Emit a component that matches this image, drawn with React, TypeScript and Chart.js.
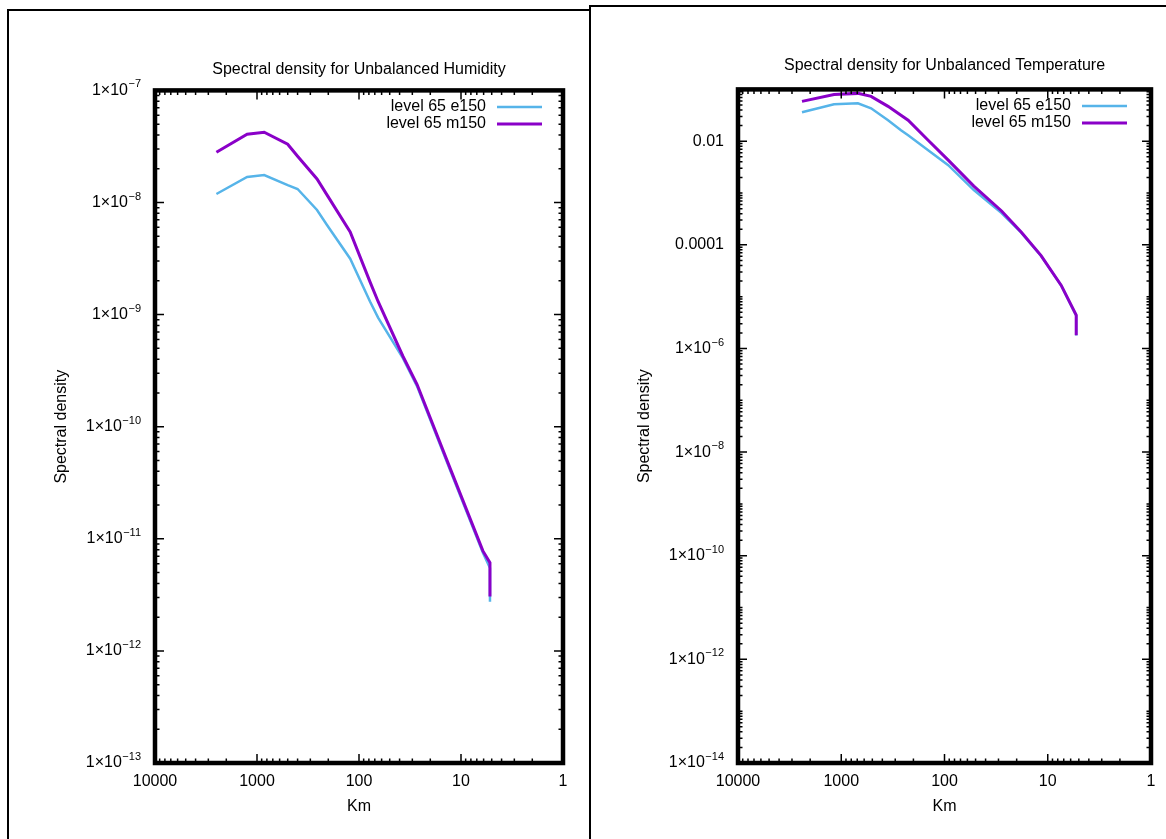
import React, { useEffect, useRef } from "react";
import { Chart, registerables } from "chart.js";

Chart.register(...registerables);

// ---------- data ----------
const seriesNames = ["level 65 e150", "level 65 m150"];
const seriesColors = ["#56b4e9", "#8a00c8"];

const humidityKm = [2500, 1250, 850, 500, 400, 258, 206, 122, 78, 65, 37, 27, 12.8, 6.1, 5.2, 5.2];
const humidityE150 = [1.19e-8, 1.69e-8, 1.76e-8, 1.43e-8, 1.32e-8, 8.58e-9, 6.3e-9, 3.15e-9, 1.31e-9, 9.4e-10, 4.07e-10, 2.3e-10, 4.1e-11, 7.5e-12, 5.5e-12, 2.75e-12];
const humidityM150 = [2.81e-8, 4.06e-8, 4.23e-8, 3.31e-8, 2.59e-8, 1.62e-8, 1.17e-8, 5.47e-9, 1.96e-9, 1.31e-9, 4.23e-10, 2.39e-10, 4.27e-11, 7.8e-12, 6.12e-12, 3.05e-12];

const temperatureKm = [2400, 1175, 690, 514, 352, 264, 225, 144, 92, 52, 28, 18, 11.6, 7.4, 5.3, 5.3];
const temperatureE150 = [0.0361, 0.0515, 0.0538, 0.0432, 0.0254, 0.0163, 0.013, 0.00672, 0.00345, 0.00114, 4.1e-4, 1.7e-4, 6.1e-5, 1.63e-5, 4.3e-6, 1.78e-6];
const temperatureM150 = [0.0588, 0.08, 0.0838, 0.0733, 0.0471, 0.0316, 0.0254, 0.01045, 0.00431, 0.00136, 4.5e-4, 1.75e-4, 6.2e-5, 1.65e-5, 4.4e-6, 1.8e-6];

const xTicks = [10000, 1000, 100, 10, 1];
const xTickLabels = ["10000", "1000", "100", "10", "1"];

// tick labels: [mantissa text, exponent text] — exponent drawn as superscript
const humidityYTicks = [1e-13, 1e-12, 1e-11, 1e-10, 1e-9, 1e-8, 1e-7];
const humidityYLabels = [
  ["1×10", "−13"],
  ["1×10", "−12"],
  ["1×10", "−11"],
  ["1×10", "−10"],
  ["1×10", "−9"],
  ["1×10", "−8"],
  ["1×10", "−7"],
];

const temperatureYTicks = [1e-14, 1e-12, 1e-10, 1e-8, 1e-6, 1e-4, 1e-2];
const temperatureYLabels = [
  ["1×10", "−14"],
  ["1×10", "−12"],
  ["1×10", "−10"],
  ["1×10", "−8"],
  ["1×10", "−6"],
  ["0.0001", ""],
  ["0.01", ""],
];

const FONT = "'Liberation Sans', Arial, sans-serif";

type PanelCfg = {
  title: string;
  km: number[];
  e150: number[];
  m150: number[];
  yMin: number;
  yMax: number;
  yTicks: number[];
  yLabels: string[][];
  left: number;
  top: number;
  width: number;
  height: number;
  yAxisWidth: number;
  xAxisHeight: number;
  padRight: number;
  titlePadTop: number;
  titlePadBottom: number;
  yTitlePad: number;
  keyRightGap: number;
};

function makeFramePlugin(cfg: PanelCfg) {
  return {
    id: "gpFrame",
    afterDraw(chart: any) {
      const ctx = chart.ctx;
      const a = chart.chartArea;
      const xs = chart.scales.x;
      const ys = chart.scales.y;
      ctx.save();
      ctx.strokeStyle = "#000";
      // ticks (inward, mirrored)
      ctx.lineWidth = 1.5;
      for (let n = 0; n <= 4; n++) {
        for (let k = 1; k <= 9; k++) {
          const v = k * Math.pow(10, n);
          if (v < 1 || v > 10000) continue;
          const px = xs.getPixelForValue(v);
          const len = k === 1 ? 9 : 4.5;
          ctx.beginPath();
          ctx.moveTo(px, a.bottom);
          ctx.lineTo(px, a.bottom - len);
          ctx.moveTo(px, a.top);
          ctx.lineTo(px, a.top + len);
          ctx.stroke();
        }
      }
      const lo = Math.round(Math.log10(cfg.yMin));
      const hi = Math.round(Math.log10(cfg.yMax));
      for (let n = lo; n <= hi; n++) {
        for (let k = 1; k <= 9; k++) {
          const v = k * Math.pow(10, n);
          if (v < cfg.yMin * 0.999 || v > cfg.yMax * 1.001) continue;
          const isMajor = k === 1 && cfg.yTicks.some((t) => Math.abs(Math.log10(t) - n) < 1e-6);
          const py = ys.getPixelForValue(v);
          const len = isMajor ? 9 : 4.5;
          ctx.beginPath();
          ctx.moveTo(a.left, py);
          ctx.lineTo(a.left + len, py);
          ctx.moveTo(a.right, py);
          ctx.lineTo(a.right - len, py);
          ctx.stroke();
        }
      }
      // frame
      ctx.lineWidth = 4.5;
      ctx.strokeRect(a.left, a.top, a.right - a.left, a.bottom - a.top);

      // y tick labels with superscript exponents
      ctx.fillStyle = "#000";
      ctx.textBaseline = "middle";
      const xr = a.left - 14;
      cfg.yTicks.forEach((v, i) => {
        const py = ys.getPixelForValue(v);
        const [base, exp] = cfg.yLabels[i];
        let expW = 0;
        if (exp) {
          ctx.font = "11px " + FONT;
          expW = ctx.measureText(exp).width;
          ctx.textAlign = "left";
          ctx.fillText(exp, xr - expW, py - 6);
        }
        ctx.font = "16px " + FONT;
        ctx.textAlign = "right";
        ctx.fillText(base, xr - expW - (exp ? 0.5 : 0), py);
      });

      // key
      ctx.font = "16px " + FONT;
      ctx.fillStyle = "#000";
      ctx.textAlign = "right";
      ctx.textBaseline = "middle";
      const lineEnd = a.right - cfg.keyRightGap;
      const lineStart = lineEnd - 45;
      seriesNames.forEach((name, i) => {
        const y = a.top + 16.5 + i * 17;
        ctx.fillText(name, lineStart - 11, y);
        ctx.beginPath();
        ctx.strokeStyle = seriesColors[i];
        ctx.lineWidth = i === 0 ? 2.5 : 3;
        ctx.moveTo(lineStart, y);
        ctx.lineTo(lineEnd, y);
        ctx.stroke();
      });
      ctx.restore();
    },
  };
}

function Panel({ cfg }: { cfg: PanelCfg }) {
  const ref = useRef<HTMLCanvasElement | null>(null);
  useEffect(() => {
    if (!ref.current) return;
    const font = { family: FONT, size: 16 };
    const chart = new Chart(ref.current, {
      type: "line",
      data: {
        datasets: [
          {
            label: seriesNames[0],
            data: cfg.km.map((k, i) => ({ x: k, y: cfg.e150[i] })),
            borderColor: seriesColors[0],
            borderWidth: 2.5,
            pointRadius: 0,
            tension: 0,
            fill: false,
            order: 2,
          },
          {
            label: seriesNames[1],
            data: cfg.km.map((k, i) => ({ x: k, y: cfg.m150[i] })),
            borderColor: seriesColors[1],
            borderWidth: 3,
            pointRadius: 0,
            tension: 0,
            fill: false,
            order: 1,
          },
        ],
      },
      options: {
        animation: false,
        responsive: false,
        devicePixelRatio: 1,
        layout: { padding: { top: 0, left: 0, right: cfg.padRight, bottom: 0 } },
        plugins: {
          legend: { display: false },
          tooltip: { enabled: false },
          title: {
            display: true,
            text: cfg.title,
            fullSize: false,
            color: "#000",
            font: { ...font, weight: "normal" },
            padding: { top: cfg.titlePadTop, bottom: cfg.titlePadBottom },
          },
        },
        scales: {
          x: {
            type: "logarithmic",
            reverse: true,
            min: 1,
            max: 10000,
            afterBuildTicks: (s: any) => {
              s.ticks = xTicks.map((v) => ({ value: v }));
            },
            afterFit: (s: any) => {
              s.height = cfg.xAxisHeight;
            },
            grid: { display: false },
            border: { display: false },
            ticks: {
              autoSkip: false,
              maxRotation: 0,
              padding: 1,
              color: "#000",
              font,
              callback: (_v: any, i: number) => xTickLabels[i],
            },
            title: { display: true, text: "Km", color: "#000", font, padding: { top: 0, bottom: 22.6 } },
          },
          y: {
            type: "logarithmic",
            min: cfg.yMin,
            max: cfg.yMax,
            afterBuildTicks: (s: any) => {
              s.ticks = cfg.yTicks.map((v) => ({ value: v }));
            },
            afterFit: (s: any) => {
              s.width = cfg.yAxisWidth;
            },
            grid: { display: false },
            border: { display: false },
            ticks: { display: false },
            title: {
              display: true,
              text: "Spectral density",
              color: "#000",
              font,
              padding: { top: cfg.yTitlePad, bottom: 0 },
            },
          },
        },
      } as any,
      plugins: [makeFramePlugin(cfg)],
    });
    return () => chart.destroy();
  }, [cfg]);
  return (
    <canvas
      ref={ref}
      width={cfg.width}
      height={cfg.height}
      style={{ position: "absolute", left: cfg.left, top: cfg.top, width: cfg.width, height: cfg.height }}
    />
  );
}

const leftCfg: PanelCfg = {
  title: "Spectral density for Unbalanced Humidity",
  km: humidityKm,
  e150: humidityE150,
  m150: humidityM150,
  yMin: 1e-13,
  yMax: 1e-7,
  yTicks: humidityYTicks,
  yLabels: humidityYLabels,
  left: 10,
  top: 12,
  width: 578,
  height: 827,
  yAxisWidth: 145,
  xAxisHeight: 76,
  padRight: 25,
  titlePadTop: 47.6,
  titlePadBottom: 11.6,
  yTitlePad: 41.6,
  keyRightGap: 21,
};

const rightCfg: PanelCfg = {
  title: "Spectral density for Unbalanced Temperature",
  km: temperatureKm,
  e150: temperatureE150,
  m150: temperatureM150,
  yMin: 1e-14,
  yMax: 0.1,
  yTicks: temperatureYTicks,
  yLabels: temperatureYLabels,
  left: 592,
  top: 8,
  width: 574,
  height: 831,
  yAxisWidth: 146,
  xAxisHeight: 76,
  padRight: 15,
  titlePadTop: 47.6,
  titlePadBottom: 14.6,
  yTitlePad: 42.6,
  keyRightGap: 24,
};

export default function App() {
  return (
    <div
      style={{
        position: "absolute",
        left: 0,
        top: 0,
        width: 1166,
        height: 839,
        background: "#fff",
        overflow: "hidden",
      }}
    >
      <div
        style={{
          position: "absolute",
          left: 7,
          top: 9,
          width: 583,
          height: 840,
          borderLeft: "2px solid #000",
          borderTop: "2px solid #000",
          boxSizing: "border-box",
        }}
      />
      <div
        style={{
          position: "absolute",
          left: 589,
          top: 5,
          width: 580,
          height: 840,
          borderLeft: "2px solid #000",
          borderTop: "2px solid #000",
          boxSizing: "border-box",
        }}
      />
      <Panel cfg={leftCfg} />
      <Panel cfg={rightCfg} />
    </div>
  );
}
